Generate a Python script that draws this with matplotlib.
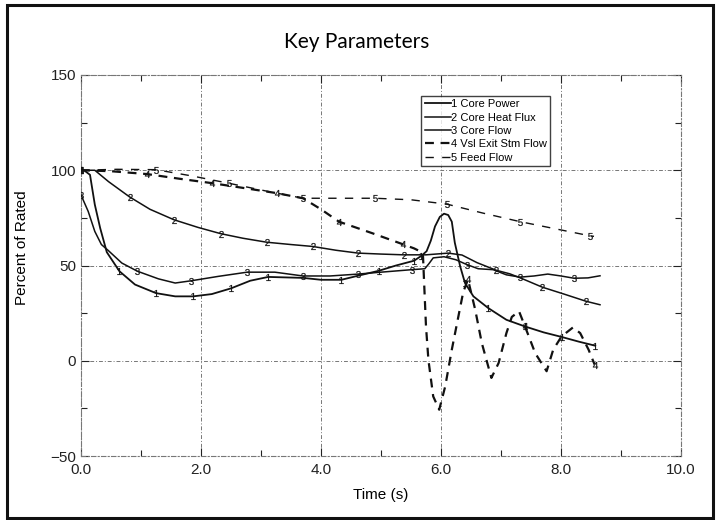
import numpy as np
import matplotlib
matplotlib.use("Agg")
import matplotlib.pyplot as plt
from matplotlib.lines import Line2D
from matplotlib.patches import Rectangle
from matplotlib.ticker import MultipleLocator, FormatStrFormatter

# ---- data ----
t_power = [0.0, 0.05, 0.15, 0.23, 0.32, 0.43, 0.64, 0.9, 1.25, 1.57, 1.87, 2.18, 2.5, 2.82,
           3.12, 3.7, 4.0, 4.34, 4.6, 4.96, 5.25, 5.55, 5.67, 5.76, 5.83, 5.9, 5.98, 6.05,
           6.12, 6.18, 6.23, 6.28, 6.32, 6.4, 6.54, 6.79, 7.09, 7.4, 7.71, 8.01, 8.3, 8.57]
y_power = [100, 100, 97.6, 82, 69.6, 57, 47, 40, 35.5, 33.8, 33.8, 35, 38, 42,
           44, 43.5, 42.5, 42.5, 44.5, 47.2, 50, 52.5, 55, 57.5, 63, 70.5, 75.5, 77.2,
           76.5, 73, 62, 55, 49.5, 40.8, 33.8, 27.6, 21.5, 18, 14.9, 12.5, 10, 7.9]
m_power = [0.0, 0.64, 1.25, 1.87, 2.5, 3.12, 4.34, 4.96, 5.55, 5.67, 6.4, 6.79, 7.4, 8.01, 8.57]

t_heat = [0.0, 0.23, 0.46, 0.81, 1.15, 1.55, 1.95, 2.33, 2.7, 3.1, 3.5, 3.86, 4.25, 4.62,
          5.0, 5.38, 5.75, 6.12, 6.35, 6.6, 6.92, 7.15, 7.36, 7.69, 8.05, 8.42, 8.65]
y_heat = [100, 100, 94, 86, 79.5, 74, 70, 66.7, 64.3, 62.2, 61, 60, 58, 56.5,
          56, 55.6, 55.6, 56.5, 55.5, 51.5, 47.5, 45.6, 43, 38.6, 35, 31.2, 29.4]
m_heat = [0.0, 0.81, 1.55, 2.33, 3.1, 3.86, 4.62, 5.38, 6.12, 6.92, 7.69, 8.42]

t_flow = [0.0, 0.12, 0.23, 0.34, 0.45, 0.68, 0.94, 1.29, 1.57, 1.84, 2.29, 2.77, 3.23,
          3.7, 4.15, 4.62, 5.0, 5.51, 5.73, 5.8, 5.87, 6.05, 6.25, 6.43, 6.62, 6.87, 7.09,
          7.32, 7.55, 7.78, 8.0, 8.22, 8.45, 8.65]
y_flow = [87, 78.4, 67.9, 61, 58, 51.3, 47, 43, 40.8, 42, 44.3, 46.5, 46.5,
          44.5, 44.5, 45.5, 46.5, 47.8, 48.3, 51, 54, 54.6, 53, 50.5, 48.3, 47.8, 45.1,
          43.9, 44.5, 45.5, 44.5, 43.3, 43.5, 44.6]
m_flow = [0.0, 0.94, 1.84, 2.77, 3.7, 4.62, 5.51, 6.43, 7.32, 8.22]

t_steam = [0.0, 0.5, 1.1, 1.65, 2.19, 2.75, 3.26, 3.7, 4.0, 4.3, 4.85, 5.36, 5.55, 5.68,
           5.70, 5.72, 5.75, 5.79, 5.87, 5.97, 6.07, 6.18, 6.29, 6.37, 6.45, 6.57, 6.68,
           6.84, 6.96, 7.09, 7.18, 7.3, 7.4, 7.57, 7.76, 7.87, 8.01, 8.2, 8.32, 8.46, 8.56]
y_steam = [100, 99.5, 98, 95.5, 93.2, 90.5, 88, 85.3, 79.5, 73, 67, 61.2, 59, 57,
           55, 40, 18, 0.5, -18.7, -25.7, -13.5, 5.8, 23.3, 36, 42.7, 26.8, 9.3,
           -9, -1.2, 14.5, 23, 26, 18, 4, -5.5, 5.8, 12.8, 17.5, 14.5, 5.8, -2]
m_steam = [0.0, 1.1, 2.19, 3.26, 4.3, 5.36, 6.45, 7.4, 8.56]

t_feed = [0.0, 0.6, 1.25, 1.85, 2.46, 3.1, 3.7, 4.3, 4.9, 5.5, 6.1, 6.7, 7.32, 7.9, 8.48, 8.55]
y_feed = [100, 100.5, 100.3, 97, 93.2, 89, 85.3, 85.3, 85.3, 84.5, 82.2, 77.5, 73, 69.3, 65.6, 65.3]
m_feed = [0.0, 1.25, 2.46, 3.7, 4.9, 6.1, 7.32, 8.48]

labels = ["1 Core Power", "2 Core Heat Flux", "3 Core Flow", "4 Vsl Exit Stm Flow", "5 Feed Flow"]
x_ticks = [0, 2, 4, 6, 8, 10]
y_ticks = [-50, 0, 50, 100, 150]

# ---- figure ----
plt.rcParams['font.family'] = ['Liberation Sans', 'DejaVu Sans']
plt.rcParams['mathtext.fontset'] = 'custom'
plt.rcParams['mathtext.rm'] = 'Liberation Sans'
plt.rcParams['mathtext.it'] = 'Liberation Sans'
fig = plt.figure(figsize=(7.17, 5.2), dpi=100)
ax = fig.add_axes([81/717, 1-456/520, 600/717, 381/520])

series = [
    (t_power, y_power, m_power, '-', 1.3, '$1$'),
    (t_heat, y_heat, m_heat, '-', 1.1, '$2$'),
    (t_flow, y_flow, m_flow, '-', 1.1, '$3$'),
    (t_steam, y_steam, m_steam, (0, (4, 3)), 1.6, '$4$'),
    (t_feed, y_feed, m_feed, (0, (6, 6)), 1.0, '$5$'),
]
handles = []
for (t, y, m, ls, lw, mk), lab in zip(series, labels):
    idx = [int(np.argmin(np.abs(np.asarray(t) - v))) for v in m]
    ax.plot(t, y, color='#111111', linestyle=ls, linewidth=lw, marker=mk,
            markevery=idx, markersize=5, markeredgewidth=0.15, zorder=3)
    handles.append(Line2D([], [], color='#111111', linestyle=ls, linewidth=lw))

ax.set_xticks(x_ticks)
ax.set_yticks(y_ticks)
ax.set_xlim(0, 10)
ax.set_ylim(-50, 150)
ax.xaxis.set_minor_locator(MultipleLocator(1))
ax.yaxis.set_minor_locator(MultipleLocator(25))
ax.xaxis.set_major_formatter(FormatStrFormatter('%.1f'))
ax.tick_params(which='both', direction='in', top=True, right=True, labelsize=11, colors='#222222')
ax.tick_params(which='major', length=6, width=0.8)
ax.tick_params(which='minor', length=4, width=0.8)
ax.tick_params(axis='x', pad=5)

ax.grid(True, which='major', color='#777777', linestyle=(0, (4, 2, 1, 2)), linewidth=0.7)
for s in ax.spines.values():
    s.set_color('#777777')
    s.set_linestyle((0, (4, 2, 1, 2)))
    s.set_linewidth(0.8)

ax.set_xlabel('Time (s)', fontsize=11, labelpad=8)
ax.set_ylabel('Percent of Rated', fontsize=11)
ax.yaxis.set_label_coords(-0.086, 0.546)

leg = ax.legend(handles, labels, loc='upper left', bbox_to_anchor=(0.567, 0.945),
                fontsize=8, frameon=True, fancybox=False, edgecolor='#111111',
                handlelength=2.4, handletextpad=0.0, labelspacing=0.3,
                borderpad=0.3, borderaxespad=0.0)
leg.get_frame().set_linewidth(1.0)

fig.text(0.498, 0.919, 'Key Parameters', ha='center', va='center',
         fontsize=15, family=['Lato', 'DejaVu Sans'])

fig.patches.append(Rectangle((7/717, 2/520), 706/717, 513/520, transform=fig.transFigure,
                             fill=False, edgecolor='#111111', linewidth=2.2))

fig.savefig('out.png', dpi=100)
